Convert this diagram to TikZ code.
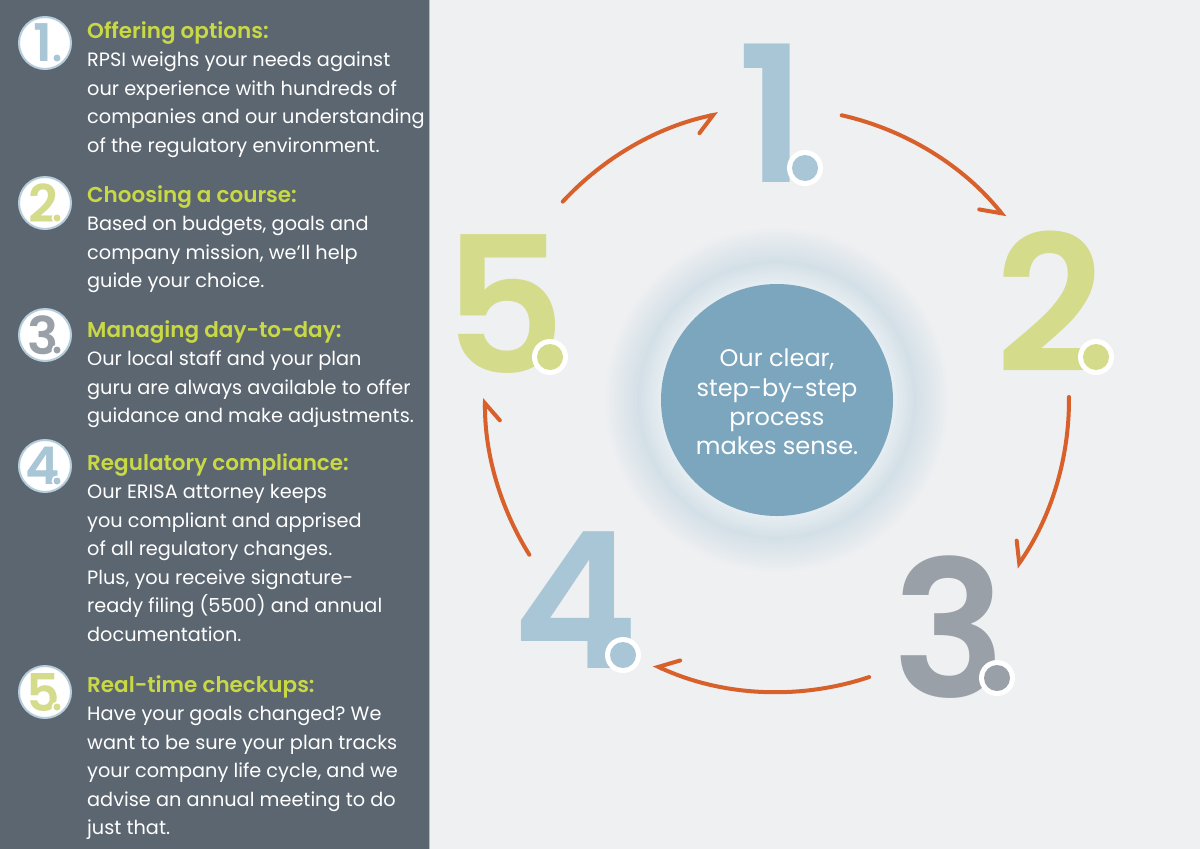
\documentclass[tikz,border=0pt]{standalone}
\usepackage{fontspec}
\IfFontExistsTF{Poppins SemiBold}{\setmainfont{Poppins}[BoldFont={Poppins SemiBold}]}{\setmainfont{Poppins}}
\usetikzlibrary{arrows.meta}
\definecolor{bgc}{HTML}{EFF0F2}
\definecolor{panelc}{HTML}{5C6671}
\definecolor{headc}{HTML}{C9D845}
\definecolor{bluec}{HTML}{A9C6D6}
\definecolor{greenc}{HTML}{D4DC8B}
\definecolor{greyc}{HTML}{9AA0A8}
\definecolor{circc}{HTML}{7BA6BE}
\definecolor{orng}{HTML}{D8602A}
\definecolor{ringA}{HTML}{E5EDF1}
\definecolor{ringB}{HTML}{D4E0E7}
\definecolor{iconring}{HTML}{B5CDDA}
\newcommand\panelblock[4]{%
  \node[head] (h#1) at (87,#2) {#3};
  \foreach \t [count=\k] in {#4} {\node[body] (l#1-\k) at (87,{#2+\k*28.5}) {\t};}
}
\newcommand\iconnum[4]{% id, y, digit, colour
  \node[iconc] (i#1) at (45,#2) {};
  \node[icondig, text=#4] (id#1) at (43,#2) {#3};
  \node[circle, fill=white, minimum size=11pt, inner sep=0] (idr#1) at (57,#2+15) {};
  \node[circle, fill=#4, minimum size=7pt, inner sep=0] (idd#1) at (57,#2+15) {};
}
\newcommand\bignum[7]{% id, x, baseline, digit, colour, dotx, doty
  \node[bigdig, text=#5] (n#1) at (#2,#3) {#4};
  \node[circle, fill=white, minimum size=36pt, inner sep=0] (dr#1) at (#6,#7) {};
  \node[circle, fill=#5, minimum size=26pt, inner sep=0] (dd#1) at (#6,#7) {};
}
\begin{document}
\frenchspacing
\begin{tikzpicture}[x=1pt,y=-1pt,
  head/.style={font=\bfseries\fontsize{21.5}{24}\selectfont, text=headc, inner sep=0, anchor=base west},
  body/.style={font=\fontsize{19.3}{24}\selectfont, text=white, inner sep=0, anchor=base west},
  bigdig/.style={font=\bfseries\fontsize{190}{190}\selectfont, inner sep=0, anchor=base},
  iconc/.style={circle, fill=white, draw=iconring, line width=2pt, minimum size=52pt, inner sep=0},
  icondig/.style={font=\bfseries\fontsize{52}{52}\selectfont, inner sep=0},
  arr/.style={draw=orng, line width=4pt, line cap=round, -{Straight Barb[harpoon,swap,length=17pt,width=30pt,line cap=round]}}]
\useasboundingbox (0,0) rectangle (1200,849);
\fill[bgc] (0,0) rectangle (1200,849);
% left panel
\fill[panelc] (0,0) rectangle (430,849);
\draw[line width=1.2pt, draw=white!55!panelc] (429.4,0) -- (429.4,849);
\iconnum{1}{43}{1}{bluec}
\iconnum{2}{203}{2}{greenc}
\iconnum{3}{335}{3}{greyc}
\iconnum{4}{466}{4}{bluec}
\iconnum{5}{692}{5}{greenc}
\panelblock{1}{38}{Offering options:}{{RPSI weighs your needs against},{our experience with hundreds of},{companies and our understanding},{of the regulatory environment.}}
\panelblock{2}{202}{Choosing a course:}{{Based on budgets, goals and},{company mission, we’ll help},{guide your choice.}}
\panelblock{3}{337}{Managing day-to-day:}{{Our local staff and your plan},{guru are always available to offer},{guidance and make adjustments.}}
\panelblock{4}{470}{Regulatory compliance:}{{Our ERISA attorney keeps},{you compliant and apprised},{of all regulatory changes.},{Plus, you receive signature-},{ready filing (5500) and annual},{documentation.}}
\panelblock{5}{692}{Real-time checkups:}{{Have your goals changed? We},{want to be sure your plan tracks},{your company life cycle, and we},{advise an annual meeting to do},{just that.}}
% centre glow
\coordinate (O) at (777,400);
\foreach \r [count=\i from 0] in {174,172,...,140} {
  \pgfmathsetmacro\pc{100*\i/17}
  \fill[ringB!\pc!bgc] (O) circle[radius=\r];
}
\foreach \r [count=\i from 0] in {138,136,...,118} {
  \pgfmathsetmacro\pc{100*\i/10}
  \fill[ringA!\pc!ringB] (O) circle[radius=\r];
}
\node[circle, fill=circc, minimum size=232pt, inner sep=0] (cen) at (O) {};
\node[align=center, text=white, font=\fontsize{24}{29.3}\selectfont] (ctext) at (777,402) {Our clear,\\step-by-step\\process\\makes sense.};
% big numbers
\bignum{1}{772}{182}{1}{bluec}{805}{168}
\bignum{2}{1050}{372}{2}{greenc}{1096}{357}
\bignum{3}{949}{697}{3}{greyc}{997}{678}
\bignum{4}{575}{668}{4}{bluec}{623}{655}
\bignum{5}{505}{373}{5}{greenc}{550}{357}
% arrows
\coordinate (s12) at ([shift={(-77.2:292)}]O);
\coordinate (s23) at ([shift={(-0.6:292)}]O);
\coordinate (s34) at ([shift={(71.6:292)}]O);
\coordinate (s45) at ([shift={(148:292)}]O);
\coordinate (s51) at ([shift={(-137.2:292)}]O);
\draw[arr] (s12) arc[start angle=-77.2, end angle=-38.7, radius=292];
\draw[arr] (s23) arc[start angle=-0.6, end angle=35, radius=292];
\draw[arr] (s34) arc[start angle=71.6, end angle=115, radius=292];
\draw[arr] (s45) arc[start angle=148, end angle=180.4, radius=292];
\draw[arr] (s51) arc[start angle=-137.2, end angle=-101.6, radius=292];
\end{tikzpicture}
\end{document}
